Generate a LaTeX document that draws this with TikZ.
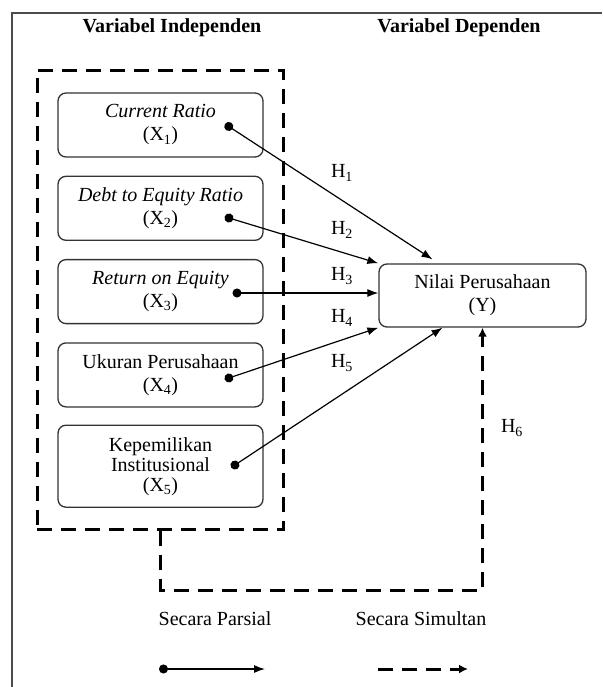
\documentclass[tikz,border=0pt]{standalone}
\usepackage{fontspec}
\setmainfont{Liberation Serif}
\usetikzlibrary{arrows.meta,positioning,fit}

\begin{document}
\begin{tikzpicture}[
    x=1pt, y=-1pt,
    every node/.style={font=\fontsize{20}{23}\selectfont},
    varbox/.style={rectangle, draw=black!80, line width=1.3pt, rounded corners=8pt, minimum width=205pt, minimum height=64pt, align=center, inner sep=2pt},
    groupbox/.style={draw, line width=3pt, dash pattern=on 15pt off 9pt, inner xsep=20pt, inner ysep=22pt},
    partial/.style={line width=1.2pt, {Circle[length=9pt]}-{Latex[length=11pt,width=8pt]}},
    simul/.style={line width=3pt, dash pattern=on 15pt off 9pt, -{Latex[length=9pt,width=9pt]}},
    frame/.style={draw=black!70, line width=2pt}
]
\useasboundingbox (0,0) rectangle (602,687);

% Frame
\coordinate (fbl) at (12,687);
\coordinate (ftl) at (12,13);
\coordinate (ftr) at (602,13);
\draw[frame] (fbl) -- (ftl) -- (ftr);

% Headings
\node[font=\bfseries\fontsize{20}{23}\selectfont] (tind) at (172,28) {Variabel Independen};
\node[font=\bfseries\fontsize{20}{23}\selectfont] (tdep) at (459,28) {Variabel Dependen};

% Independent variables (vertical stack)
\node[varbox] (cr) at (160.5,125) {\textit{Current Ratio}\\(X\textsubscript{1})};
\node[varbox, below=18pt of cr] (der) {\textit{Debt to Equity Ratio}\\(X\textsubscript{2})};
\node[varbox, below=18pt of der] (roe) {\textit{Return on Equity}\\(X\textsubscript{3})};
\node[varbox, below=18pt of roe] (ukuran) {Ukuran Perusahaan\\(X\textsubscript{4})};
\node[varbox, below=17pt of ukuran, minimum height=82pt, font=\fontsize{20}{20}\selectfont] (kepemilikan) {Kepemilikan\\Institusional\\(X\textsubscript{5})};
\node[groupbox, fit=(cr)(kepemilikan)] (indep) {};

% Dependent variable
\node[varbox, minimum width=207pt, minimum height=63pt] (nilai) at (482.5,295.5) {Nilai Perusahaan\\(Y)};

% Partial paths
\coordinate (d1) at (225,124);
\coordinate (d2) at (224.7,216.7);
\coordinate (d3) at (232.5,293);
\coordinate (d4) at (224.7,379.4);
\coordinate (d5) at (231.2,467.5);
\draw[partial] (d1) -- ([xshift=-50pt,yshift=4pt]nilai.north);
\draw[partial] (d2) -- (nilai.north west);
\draw[partial] (d3) -- (nilai.west |- d3);
\draw[partial] (d4) -- (nilai.south west);
\draw[partial] (d5) -- ([xshift=-40pt]nilai.south);

% Simultaneous path
\coordinate (bend) at (300,590);
\draw[simul] (indep.south) -- (indep.south |- bend) -| (nilai.south);

% Hypothesis labels
\node (h1) at (342,173) {H\textsubscript{1}};
\node (h2) at (342,230) {H\textsubscript{2}};
\node (h3) at (342,276) {H\textsubscript{3}};
\node (h4) at (342,318) {H\textsubscript{4}};
\node (h5) at (342,363) {H\textsubscript{5}};
\node (h6) at (512,428) {H\textsubscript{6}};

% Legend
\node (lpar) at (215,619) {Secara Parsial};
\node (lsim) at (421,619) {Secara Simultan};
\coordinate (lpa) at (159,669);
\coordinate (lpb) at (265,669);
\coordinate (lsa) at (378,669);
\coordinate (lsb) at (468,669);
\draw[partial] (lpa) -- (lpb);
\draw[simul] (lsa) -- (lsb);

\end{tikzpicture}
\end{document}
